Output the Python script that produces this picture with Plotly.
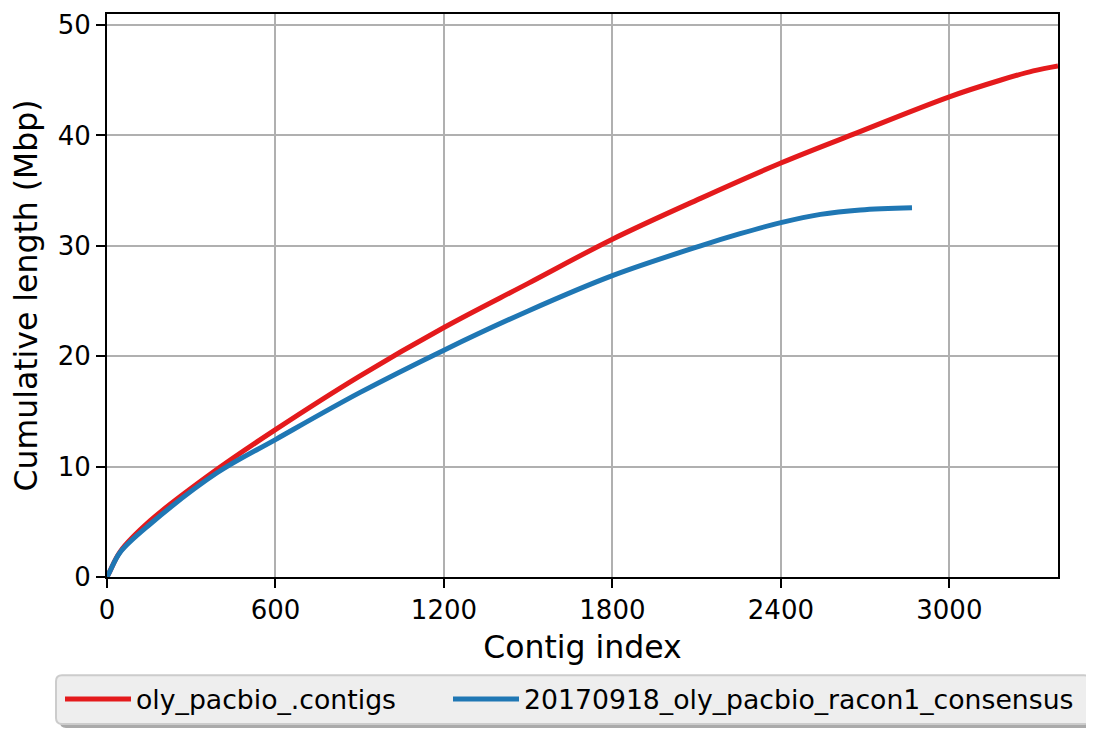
import plotly.graph_objects as go

# Data
red_name = "oly_pacbio_.contigs"
red_x = [0, 10, 47, 154, 392, 600, 900, 1200, 1500, 1800, 2114, 2400, 2647, 3000, 3181, 3299, 3387]
red_y = [0, 0.5, 2.3, 5.1, 9.75, 13.35, 18.2, 22.6, 26.6, 30.6, 34.3, 37.5, 40.0, 43.5, 45.0, 45.85, 46.3]

blue_name = "20170918_oly_pacbio_racon1_consensus"
blue_x = [0, 10, 47, 154, 392, 600, 900, 1200, 1500, 1800, 2114, 2255, 2400, 2541, 2683, 2867]
blue_y = [0, 0.5, 2.25, 4.8, 9.44, 12.45, 16.7, 20.55, 24.1, 27.3, 30.0, 31.1, 32.1, 32.85, 33.25, 33.45]

x_ticks = [0, 600, 1200, 1800, 2400, 3000]
y_ticks = [0, 10, 20, 30, 40, 50]

FONT = "DejaVu Sans"

# page offset (browser body margin) compensation
OFF = 8
W, H = 1094 - OFF, 729 - OFF
PL, PR, PT, PB = 107, 1058, 10, 577  # target plot area in screen pixels
pw, ph = PR - PL, PB - PT

def px(x):
    return (x - PL) / pw

def py(y):
    return (PB - y) / ph

def rounded_rect(x0, y0, x1, y1, r):
    # screen-pixel box -> paper-coordinate SVG path with rounded corners
    X0, X1 = px(x0), px(x1)
    Y0, Y1 = py(y0), py(y1)  # Y0 top, Y1 bottom
    rx, ry = r / pw, r / ph
    return (f"M{X0 + rx},{Y0} L{X1 - rx},{Y0} Q{X1},{Y0} {X1},{Y0 - ry} "
            f"L{X1},{Y1 + ry} Q{X1},{Y1} {X1 - rx},{Y1} "
            f"L{X0 + rx},{Y1} Q{X0},{Y1} {X0},{Y1 + ry} "
            f"L{X0},{Y0 - ry} Q{X0},{Y0} {X0 + rx},{Y0} Z")

fig = go.Figure()
fig.add_trace(go.Scatter(x=red_x, y=red_y, mode="lines", name=red_name, legend="legend",
                         line=dict(color="#e41a1c", width=5, shape="spline", smoothing=1.0)))
fig.add_trace(go.Scatter(x=blue_x, y=blue_y, mode="lines", name=blue_name, legend="legend2",
                         line=dict(color="#1f77b4", width=5, shape="spline", smoothing=1.0)))

axis_common = dict(showline=True, linecolor="black", linewidth=2, mirror=True,
                   ticks="outside", ticklen=9, tickwidth=2, tickcolor="black",
                   showgrid=True, gridcolor="#b0b0b0", gridwidth=2, zeroline=False,
                   tickfont=dict(family=FONT, size=26, color="black"))

# legend box (with shadow) drawn as shapes
bx0, bx1, by0, by1 = 56, 1090, 676, 725
sh = 4
shapes = [
    dict(type="path", xref="paper", yref="paper", layer="below",
         path=rounded_rect(bx0 + sh, by0 + sh, bx1 + sh, by1 + sh, 6),
         fillcolor="#aaaaaa", line=dict(width=0)),
    dict(type="path", xref="paper", yref="paper", layer="below",
         path=rounded_rect(bx0, by0, bx1, by1, 6),
         fillcolor="#eeeeee", line=dict(color="#cccccc", width=2)),
]

leg_common = dict(orientation="h", yanchor="middle", y=py(700), xanchor="left",
                  bgcolor="rgba(0,0,0,0)", borderwidth=0,
                  font=dict(family=FONT, size=26.7, color="black"), itemwidth=66)

fig.update_layout(
    width=W, height=H,
    margin=dict(l=PL - OFF, r=W - (PR - OFF), t=PT - OFF, b=H - (PB - OFF)),
    paper_bgcolor="white", plot_bgcolor="white",
    font=dict(family=FONT, color="black"),
    xaxis=dict(range=[0, 3387], tickvals=x_ticks,
               title=dict(text="Contig index", font=dict(family=FONT, size=31.5), standoff=12),
               **axis_common),
    yaxis=dict(range=[0, 51], tickvals=y_ticks,
               title=dict(text="Cumulative length (Mbp)", font=dict(family=FONT, size=31.5), standoff=12),
               **axis_common),
    legend=dict(x=px(60), **leg_common),
    legend2=dict(x=px(448), **leg_common),
    shapes=shapes,
    showlegend=True,
)

fig.write_html("out.html")
